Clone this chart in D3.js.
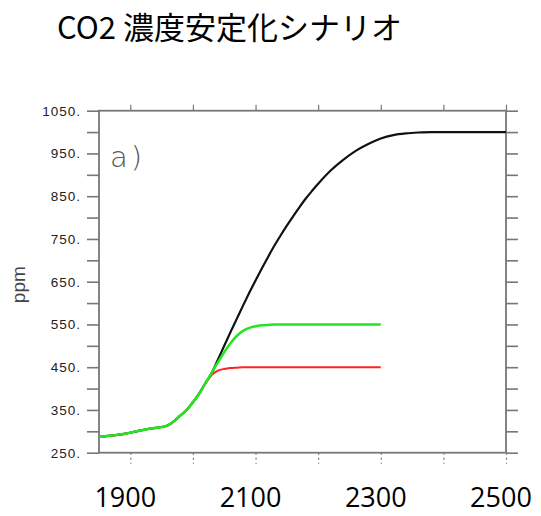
<!DOCTYPE html>
<html>
<head>
<meta charset="utf-8">
<script src="https://cdn.jsdelivr.net/npm/d3@7"></script>
<style>
  body { margin: 0; background: #fff; }
  svg { display: block; }
</style>
</head>
<body>
<svg id="chart" width="541" height="516"></svg>
<script>
    // years shared by all three runs; red and green stop at 2300
    var years = [1850, 1870, 1890, 1910, 1930, 1950, 1960, 1970, 1980, 1990, 2000, 2010, 2020,
                 2030, 2040, 2050, 2060, 2070, 2080, 2090, 2100, 2110, 2120, 2130, 2140, 2150,
                 2160, 2170, 2180, 2190, 2200, 2220, 2240, 2260, 2280, 2300, 2320, 2340, 2360,
                 2380, 2400, 2450, 2500];
    var ppm1000 = [287, 290, 294, 300, 306, 310, 314, 324, 337, 350, 368, 388, 413,
                   436, 468, 500, 532, 563, 594, 624, 653, 681, 708, 734, 758, 781,
                   803, 824, 844, 862, 879, 910, 935, 956, 972, 985, 993, 997, 999,
                   1000, 1000, 1000, 1000];
    var ppm550 = [287, 290, 294, 300, 306, 310, 314, 324, 337, 350, 368, 388, 413,
                  437, 462, 485, 506, 523, 535, 542, 546, 548, 549, 550, 550, 550,
                  550, 550, 550, 550, 550, 550, 550, 550, 550, 550, null, null, null,
                  null, null, null, null];
    var ppm450 = [287, 290, 294, 300, 306, 310, 314, 324, 337, 350, 368, 388, 412,
                  432, 442, 446, 448, 449, 450, 450, 450, 450, 450, 450, 450, 450,
                  450, 450, 450, 450, 450, 450, 450, 450, 450, 450, null, null, null,
                  null, null, null, null];
    var yTicks = [250, 300, 350, 400, 450, 500, 550, 600, 650, 700, 750, 800, 850, 900, 950, 1000, 1050];
    var xTicks = [1900, 2000, 2100, 2200, 2300, 2400, 2500];
    var xLabels = [1900, 2100, 2300, 2500];

    var svg = d3.select("#chart");

    var xScale = d3.scaleLinear().domain([1850, 2500]).range([99, 506]);
    var yScale = d3.scaleLinear().domain([250, 1050]).range([452.7, 110.7]);

    // title
    svg.append("text")
      .attr("x", 57)
      .attr("y", 39)
      .attr("font-family", "'Noto Sans CJK JP', sans-serif")
      .attr("font-size", 31)
      .attr("fill", "#000")
      .text("CO2 濃度安定化シナリオ");

    // left axis with labels on every other tick
    var leftAxis = svg.append("g")
      .attr("transform", "translate(" + xScale(1850) + ",0)")
      .call(d3.axisLeft(yScale).tickValues(yTicks).tickSize(12).tickPadding(6)
        .tickFormat((d) => d % 100 == 50 ? d + "." : ""));
    var rightAxis = svg.append("g")
      .attr("transform", "translate(" + xScale(2500) + ",0)")
      .call(d3.axisRight(yScale).tickValues(yTicks).tickSize(12).tickFormat(""));
    var topAxis = svg.append("g")
      .attr("transform", "translate(0," + yScale(1050) + ")")
      .call(d3.axisTop(xScale).tickValues(xTicks).tickSize(6).tickFormat(""));
    var bottomAxis = svg.append("g")
      .attr("transform", "translate(0," + yScale(250) + ")")
      .call(d3.axisBottom(xScale).tickValues(xTicks).tickSize(11).tickFormat(""));

    svg.selectAll(".domain").remove();
    svg.selectAll(".tick line").attr("stroke", "#777").attr("stroke-width", 1.6);
    bottomAxis.selectAll(".tick line").attr("stroke-width", 1.2).attr("stroke-dasharray", "2,3");
    topAxis.selectAll(".tick line").attr("stroke-width", 1.2);
    leftAxis.selectAll(".tick text")
      .attr("font-family", "'Liberation Sans', Arial, sans-serif")
      .attr("font-size", 13.5)
      .attr("letter-spacing", 1)
      .attr("fill", "#222");

    // frame
    svg.append("rect")
      .attr("x", xScale(1850))
      .attr("y", yScale(1050))
      .attr("width", xScale(2500) - xScale(1850))
      .attr("height", yScale(250) - yScale(1050))
      .attr("fill", "none")
      .attr("stroke", "#777")
      .attr("stroke-width", 1.8);

    // y title
    svg.append("text")
      .attr("transform", "translate(25," + (yScale(650) + 3) + ") rotate(-90)")
      .attr("text-anchor", "middle")
      .attr("font-family", "'Liberation Sans', Arial, sans-serif")
      .attr("font-size", 19)
      .attr("fill", "#444")
      .text("ppm");

    // panel label
    svg.append("text")
      .attr("x", 110)
      .attr("y", 167)
      .attr("font-family", "'DejaVu Sans', sans-serif")
      .attr("font-weight", 200)
      .attr("font-size", 29)
      .attr("letter-spacing", 3)
      .attr("fill", "#555")
      .text("a)");

    var line = d3.line()
      .defined((d) => d[1] != null)
      .x((d) => xScale(d[0]))
      .y((d) => yScale(d[1]))
      .curve(d3.curveMonotoneX);

    var series = [
      {values: ppm1000, color: "#111", width: 2.2},
      {values: ppm450, color: "#ff2222", width: 2},
      {values: ppm550, color: "#22e622", width: 2.5}
    ];
    series.forEach((s) => {
      svg.append("path")
        .attr("d", line(years.map((y, i) => [y, s.values[i]])))
        .attr("fill", "none")
        .attr("stroke", s.color)
        .attr("stroke-width", s.width)
        .attr("stroke-linejoin", "round");
    });

    // big year labels under the panel
    svg.selectAll(".yearlabel")
      .data(xLabels)
      .enter()
      .append("text")
      .attr("class", "yearlabel")
      .attr("x", (d) => xScale(d) - 5)
      .attr("y", 507)
      .attr("text-anchor", "middle")
      .attr("font-family", "'Open Sans', sans-serif")
      .attr("font-size", 27)
      .attr("fill", "#000")
      .text((d) => d);
</script>
</body>
</html>
